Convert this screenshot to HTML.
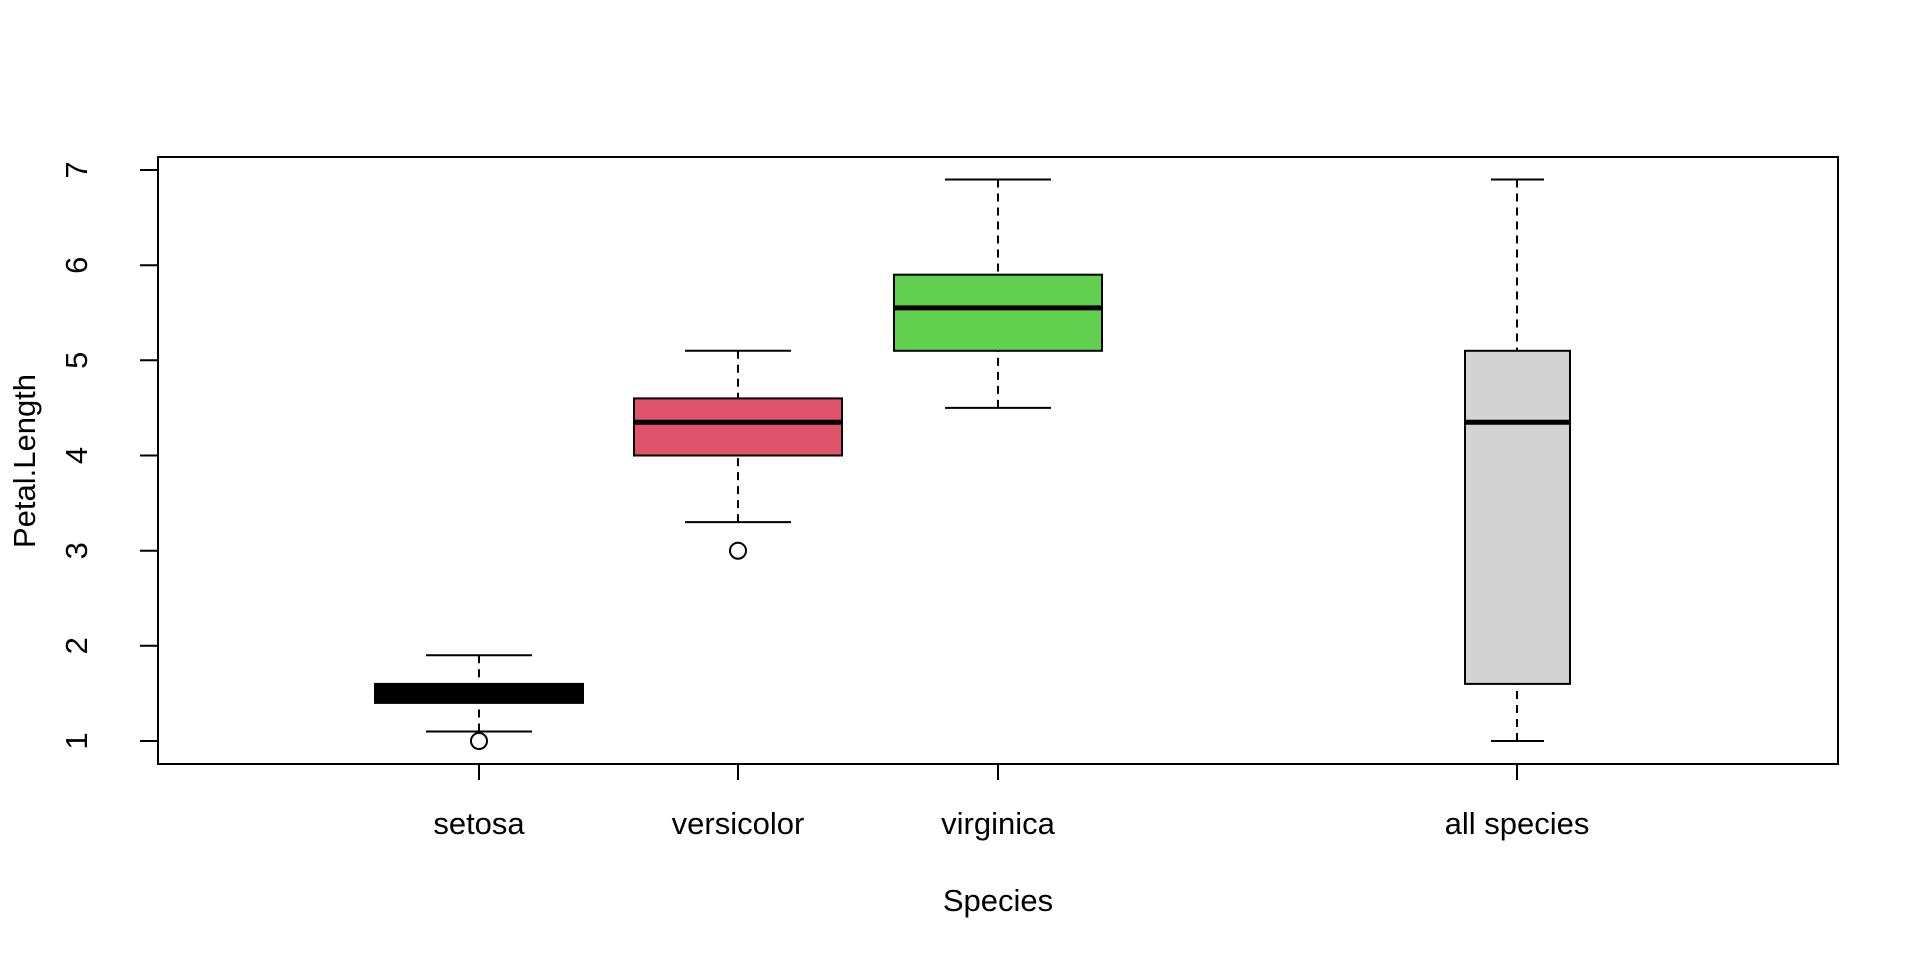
<!DOCTYPE html>
<html><head><meta charset="utf-8"><style>html,body{margin:0;padding:0;background:#fff}</style></head>
<body>
<svg width="1920" height="960" viewBox="0 0 1920 960" xmlns="http://www.w3.org/2000/svg" font-family="Liberation Sans, sans-serif" font-size="31" fill="#000">
<rect x="0" y="0" width="1920" height="960" fill="#fff"/>
<rect x="158" y="157" width="1680" height="607" fill="none" stroke="#000" stroke-width="2"/>
<g stroke="#000" stroke-width="2">
<line x1="140" y1="741" x2="158" y2="741"/>
<line x1="140" y1="645.8" x2="158" y2="645.8"/>
<line x1="140" y1="550.7" x2="158" y2="550.7"/>
<line x1="140" y1="455.5" x2="158" y2="455.5"/>
<line x1="140" y1="360.3" x2="158" y2="360.3"/>
<line x1="140" y1="265.2" x2="158" y2="265.2"/>
<line x1="140" y1="170" x2="158" y2="170"/>
<line x1="479" y1="764" x2="479" y2="780"/>
<line x1="738" y1="764" x2="738" y2="780"/>
<line x1="998" y1="764" x2="998" y2="780"/>
<line x1="1517" y1="764" x2="1517" y2="780"/>
</g>
<g text-anchor="middle">
<text transform="translate(87,741) rotate(-90)">1</text>
<text transform="translate(87,645.8) rotate(-90)">2</text>
<text transform="translate(87,550.7) rotate(-90)">3</text>
<text transform="translate(87,455.5) rotate(-90)">4</text>
<text transform="translate(87,360.3) rotate(-90)">5</text>
<text transform="translate(87,265.2) rotate(-90)">6</text>
<text transform="translate(87,170) rotate(-90)">7</text>
<text transform="translate(35,461) rotate(-90)">Petal.Length</text>
<text x="479" y="834">setosa</text>
<text x="738" y="834">versicolor</text>
<text x="998" y="834">virginica</text>
<text x="1517" y="834">all species</text>
<text x="998" y="911">Species</text>
</g>
<g stroke="#000" stroke-width="2">
<line x1="479" y1="655.3" x2="479" y2="683.9" stroke-dasharray="8,6"/>
<line x1="479" y1="731.5" x2="479" y2="702.9" stroke-dasharray="8,6"/>
<line x1="426" y1="655.3" x2="532" y2="655.3"/>
<line x1="426" y1="731.5" x2="532" y2="731.5"/>
<rect x="375" y="683.9" width="208" height="19" fill="#000"/>
<circle cx="479" cy="741" r="8" fill="#fff"/>
<line x1="738" y1="350.8" x2="738" y2="398.4" stroke-dasharray="8,6"/>
<line x1="738" y1="522.1" x2="738" y2="455.5" stroke-dasharray="8,6"/>
<line x1="685" y1="350.8" x2="791" y2="350.8"/>
<line x1="685" y1="522.1" x2="791" y2="522.1"/>
<rect x="634" y="398.4" width="208" height="57.1" fill="#DF536B"/>
<line x1="634" y1="422.2" x2="842" y2="422.2" stroke-width="5"/>
<circle cx="738" cy="550.7" r="8" fill="#fff"/>
<line x1="998" y1="179.5" x2="998" y2="274.7" stroke-dasharray="8,6"/>
<line x1="998" y1="407.9" x2="998" y2="350.8" stroke-dasharray="8,6"/>
<line x1="945" y1="179.5" x2="1051" y2="179.5"/>
<line x1="945" y1="407.9" x2="1051" y2="407.9"/>
<rect x="894" y="274.7" width="208" height="76.1" fill="#61D04F"/>
<line x1="894" y1="307.9" x2="1102" y2="307.9" stroke-width="5"/>
<line x1="1517" y1="179.5" x2="1517" y2="350.8" stroke-dasharray="8,6"/>
<line x1="1517" y1="741" x2="1517" y2="683.9" stroke-dasharray="8,6"/>
<line x1="1491" y1="179.5" x2="1544" y2="179.5"/>
<line x1="1491" y1="741" x2="1544" y2="741"/>
<rect x="1465" y="350.8" width="105" height="333.1" fill="#D3D3D3"/>
<line x1="1465" y1="422.2" x2="1570" y2="422.2" stroke-width="5"/>
</g>
</svg>
</body></html>
